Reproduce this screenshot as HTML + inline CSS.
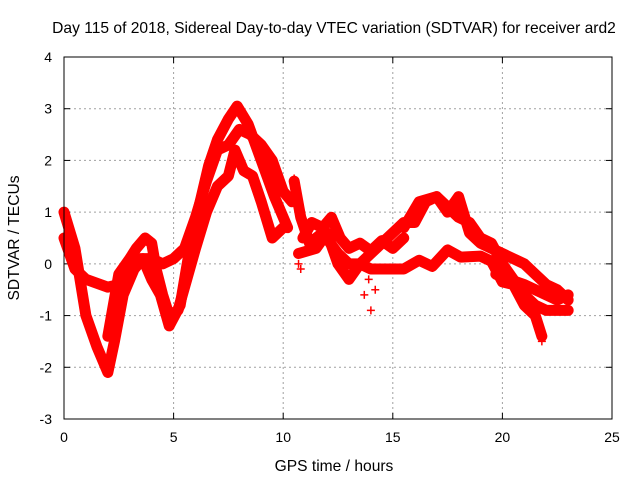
<!DOCTYPE html>
<html><head><meta charset="utf-8"><style>
body{margin:0;background:#fff}
svg{display:block;font-family:"Liberation Sans",sans-serif;font-size:14px}
</style></head><body>
<svg id="chart" width="640" height="480" viewBox="0 0 640 480">
<rect width="640" height="480" fill="#fff"/>
<text x="334" y="33" text-anchor="middle" font-size="15.6">Day 115 of 2018, Sidereal Day-to-day VTEC variation (SDTVAR) for receiver ard2</text>
<text x="334" y="471" text-anchor="middle" font-size="15.6">GPS time / hours</text>
<text transform="translate(19,238) rotate(-90)" text-anchor="middle" font-size="15.6">SDTVAR / TECUs</text>
<g id="grid"></g>
<g id="ticks"></g>
<g id="series"></g>
<rect x="64" y="57" width="548" height="362" fill="none" stroke="#000" stroke-width="1"/>
</svg>
<script>
const xTicks=[0,5,10,15,20,25];
const yTicks=[-3,-2,-1,0,1,2,3,4];
const trackA=[[0,1.0],[0.5,0.3],[1,-1.0],[1.5,-1.6],[2,-2.1],[2.3,-1.5],[2.7,-0.6],[3.2,-0.1],[3.6,0.1],[4,-0.3],[4.4,-0.6],[4.8,-1.2],[5.3,-0.8],[5.7,0.2],[6.1,1.0],[6.6,1.9],[7,2.4],[7.5,2.8],[7.9,3.05],[8.4,2.7],[9,2.0],[9.6,1.3],[10.2,0.7]];
const trackB=[[0,0.5],[0.5,-0.1],[1,-0.3],[2,-0.45],[2.5,-0.4],[3,-0.2],[3.5,0.1],[4,0.1],[4.5,0.0],[5,0.1],[5.5,0.3],[6,0.9],[6.5,1.6],[7,2.2],[7.5,2.3],[8,2.6],[8.5,2.5],[9,2.3],[9.5,2.0],[10,1.4],[10.4,1.2]];
const trackC=[[2,-1.4],[2.5,-0.2],[3,0.1],[3.3,0.3],[3.7,0.5],[4,0.4],[4.2,-0.1],[4.5,-0.6],[4.8,-1.0],[5.2,-0.9],[5.6,-0.3],[6,0.3],[6.5,1.0],[7,1.5],[7.5,1.7],[7.8,2.2],[8.2,1.8],[8.6,1.7],[9,1.2],[9.5,0.5],[10,0.7]];
const trackD=[[10.5,1.6],[10.8,0.9],[11.2,0.4],[11.8,0.6],[12.5,0.2],[13,0.0],[13.5,0.0],[14,0.2],[14.5,0.4],[15,0.6],[15.5,0.8],[16,0.8],[16.5,1.2],[17,1.3],[17.5,1.0],[18,1.3],[18.5,0.6],[19,0.4],[19.5,0.3],[20,0.2],[20.5,0.1],[21,0.0],[21.5,-0.2],[22,-0.4],[22.5,-0.5],[23,-0.7]];
const trackE=[[10.7,0.2],[11.5,0.3],[12,0.6],[12.5,0.0],[13,-0.3],[13.5,0.0],[14,-0.1],[14.9,-0.1],[15.5,-0.1],[16.2,0.07],[16.8,-0.05],[17.5,0.27],[18.1,0.13],[19,0.15],[19.5,0.05],[20,-0.35],[20.5,-0.4],[21,-0.8],[21.5,-1.0],[21.8,-1.4]];
const trackF=[[15.5,0.7],[16.2,1.2],[17,1.3],[18,0.9],[18.5,0.8],[19,0.5],[19.5,0.4],[20,0.0],[20.5,-0.3],[21,-0.6],[21.5,-0.8],[22,-0.9],[23,-0.9]];
const trackH=[[10.9,0.5],[11.3,0.8],[11.8,0.7],[12.2,0.9],[12.6,0.5],[13,0.3],[13.5,0.4],[14,0.25],[14.5,0.45],[15,0.3],[15.5,0.5]];
const trackI=[[19.7,-0.2],[20.3,-0.3],[21,-0.4],[21.5,-0.5],[22,-0.6],[22.5,-0.7],[23,-0.6]];
const trackG=[[13.9,-0.3],[14,-0.9],[14.2,-0.5],[13.7,-0.6],[10.7,0.0],[10.8,-0.1],[10.5,1.65],[21.8,-1.5]];
const tracks=[trackA,trackB,trackC,trackD,trackE,trackF,trackH,trackI];
const X=h=>64+h*548/25, Y=v=>57+(4-v)*362/7;
const NS='http://www.w3.org/2000/svg';
const g=document.getElementById('grid'),tk=document.getElementById('ticks'),s=document.getElementById('series');
function mk(tag,at,p){const e=document.createElementNS(NS,tag);for(const k in at)e.setAttribute(k,at[k]);p.appendChild(e);return e;}
xTicks.forEach(t=>{const x=X(t);
 if(t>0&&t<25){const l=mk('line',{x1:x,x2:x,y1:57,y2:419,stroke:'#a0a0a0','stroke-dasharray':'2,3'},g);
 
 }
 mk('line',{x1:x,x2:x,y1:419,y2:413,stroke:'#000'},tk);mk('line',{x1:x,x2:x,y1:57,y2:63,stroke:'#000'},tk);
 const tx=mk('text',{x:x,y:442,'text-anchor':'middle'},tk);tx.textContent=t;
 
 });
yTicks.forEach(t=>{const y=Y(t);
 if(t>-3&&t<4){const l=mk('line',{x1:64,x2:612,y1:y,y2:y,stroke:'#a0a0a0','stroke-dasharray':'2,3'},g);
 
 }
 mk('line',{x1:64,x2:70,y1:y,y2:y,stroke:'#000'},tk);mk('line',{x1:612,x2:606,y1:y,y2:y,stroke:'#000'},tk);
 const tx=mk('text',{x:52,y:y+5,'text-anchor':'end'},tk);tx.textContent=t;
 
 });
tracks.forEach(tr=>{
 const p=mk('polyline',{points:tr.map(d=>X(d[0])+','+Y(d[1])).join(' '),fill:'none',stroke:'#f00','stroke-width':11,'stroke-linejoin':'round','stroke-linecap':'round'},s);
 
 
});
const allPts=tracks.flat().concat(trackG);
allPts.forEach(d=>{const x=X(d[0]),y=Y(d[1]);
 const m=mk('path',{d:`M${x-4},${y}h8M${x},${y-4}v8`,stroke:'#f00','stroke-width':1.5},s);
 
 });
</script>
</body></html>
